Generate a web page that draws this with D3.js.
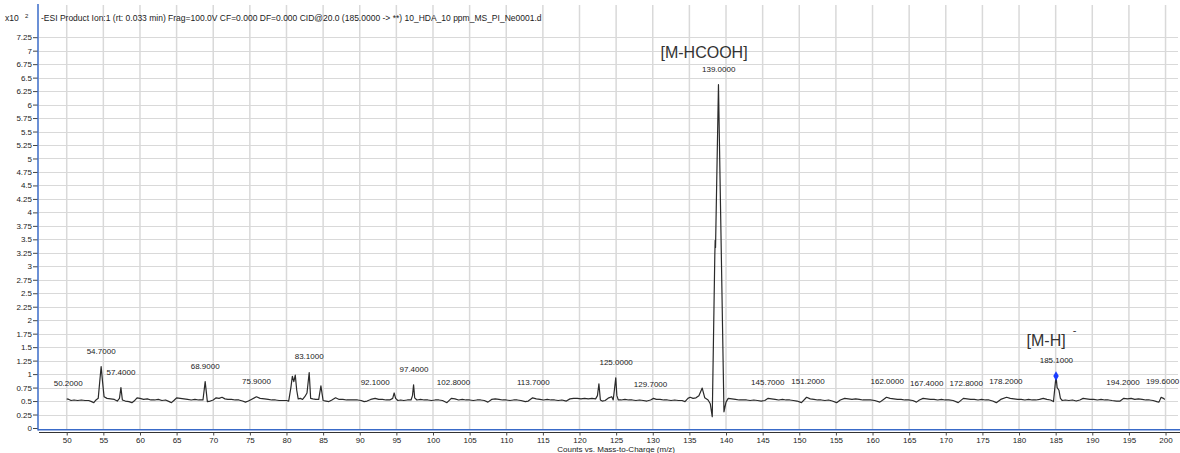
<!DOCTYPE html>
<html>
<head>
<meta charset="utf-8">
<script src="https://cdn.jsdelivr.net/npm/d3@7/dist/d3.min.js"></script>
<style>
  html, body { margin: 0; padding: 0; background: #fff; }
  svg { display: block; font-family: "Liberation Sans", Arial, sans-serif; }
</style>
</head>
<body>
<svg id="chart" width="1180" height="453"></svg>
<script>
// ---- Data (counts in units of x10^2) ----
const mz = [
  50.0,50.3,50.6,51.0,51.5,52.0,52.5,53.0,53.4,53.7,54.0,54.3,54.5,54.7,54.9,55.1,55.5,56.0,56.5,56.9,
  57.2,57.4,57.6,58.0,58.5,58.9,59.2,59.6,60.0,60.5,61.0,61.5,62.0,62.5,63.0,63.5,64.0,64.3,64.7,65.0,
  65.5,66.0,66.5,67.0,67.5,68.0,68.6,68.9,69.2,69.6,70.0,70.4,70.8,71.2,71.6,72.0,72.5,73.0,73.5,74.0,
  74.4,74.8,75.2,75.9,76.4,77.0,77.5,78.0,78.5,79.0,79.5,80.0,80.3,80.6,80.8,81.0,81.2,81.4,81.6,81.9,
  82.2,82.5,82.8,83.1,83.3,83.6,84.0,84.4,84.7,85.0,85.4,85.8,86.2,86.7,87.2,87.7,88.2,88.7,89.2,89.7,
  90.2,90.6,91.0,91.5,92.1,92.6,93.1,93.6,94.1,94.5,94.7,94.9,95.2,95.6,96.0,96.5,97.0,97.2,97.35,97.5,
  97.8,98.3,98.8,99.3,99.8,100.3,100.8,101.3,101.9,102.5,103.0,103.5,104.0,104.5,105.0,105.5,106.0,106.5,107.0,107.5,
  108.0,108.5,109.0,109.5,110.0,110.5,111.0,111.5,112.0,112.6,113.0,113.6,114.1,114.6,115.1,115.6,116.1,116.6,117.1,117.6,
  118.2,118.7,119.2,119.7,120.2,120.7,121.2,121.7,122.2,122.45,122.65,122.85,123.1,123.5,124.0,124.4,124.6,124.8,124.95,125.1,
  125.3,125.7,126.2,126.7,127.2,127.7,128.2,128.7,129.2,129.7,130.1,130.5,131.0,131.5,132.0,132.5,133.0,133.5,134.0,134.4,
  134.8,135.1,135.5,135.9,136.3,136.75,137.1,137.55,137.85,138.12,138.47,138.52,138.57,138.97,139.72,140.0,140.3,140.8,141.3,141.8,
  142.3,142.8,143.3,143.8,144.3,144.8,145.3,145.75,146.2,146.7,147.2,147.7,148.2,148.7,149.2,149.7,150.3,151.0,151.5,152.0,
  152.5,153.0,153.5,154.0,154.5,155.1,155.6,156.2,156.7,157.2,157.7,158.2,158.7,159.2,159.7,160.3,161.0,161.5,161.9,162.4,
  162.9,163.4,163.9,164.4,164.9,165.5,166.0,166.4,166.9,167.4,167.9,168.4,168.9,169.4,169.9,170.4,171.0,171.7,172.4,172.9,
  173.4,173.9,174.4,174.9,175.4,175.9,176.4,176.9,177.5,178.3,178.8,179.3,179.8,180.3,180.8,181.3,181.8,182.3,182.8,183.3,
  183.8,184.3,184.7,185.05,185.2,185.45,185.65,185.9,186.3,186.8,187.3,187.8,188.3,188.75,189.2,189.7,190.2,190.7,191.2,191.7,
  192.2,192.7,193.3,193.8,194.3,194.8,195.3,195.8,196.3,196.8,197.3,197.8,198.3,198.8,199.1,199.4,199.7,199.9
];
const counts = [
  0.54,0.53,0.51,0.52,0.51,0.52,0.51,0.51,0.49,0.47,0.52,0.55,0.85,1.14,0.85,0.58,0.55,0.54,0.53,0.50,
  0.55,0.75,0.52,0.50,0.49,0.47,0.50,0.56,0.55,0.53,0.54,0.52,0.52,0.53,0.51,0.52,0.49,0.47,0.52,0.56,
  0.55,0.54,0.53,0.52,0.53,0.52,0.52,0.86,0.49,0.50,0.52,0.56,0.55,0.57,0.54,0.53,0.53,0.52,0.52,0.50,
  0.48,0.50,0.53,0.58,0.55,0.54,0.53,0.52,0.52,0.51,0.51,0.51,0.50,0.75,0.96,0.86,0.98,0.70,0.54,0.55,
  0.53,0.58,0.65,1.03,0.55,0.54,0.53,0.53,0.78,0.51,0.50,0.49,0.52,0.56,0.53,0.53,0.52,0.52,0.52,0.52,
  0.51,0.49,0.50,0.53,0.55,0.53,0.53,0.52,0.52,0.55,0.65,0.55,0.51,0.52,0.51,0.52,0.52,0.60,0.80,0.56,
  0.52,0.53,0.52,0.52,0.51,0.52,0.52,0.51,0.47,0.55,0.54,0.52,0.53,0.52,0.52,0.51,0.52,0.52,0.51,0.48,
  0.53,0.54,0.53,0.52,0.52,0.51,0.52,0.52,0.51,0.49,0.50,0.56,0.54,0.53,0.52,0.53,0.52,0.52,0.51,0.52,
  0.50,0.54,0.55,0.55,0.54,0.55,0.54,0.55,0.54,0.60,0.82,0.52,0.50,0.51,0.56,0.58,0.52,0.75,0.93,0.60,
  0.52,0.52,0.53,0.52,0.52,0.51,0.52,0.51,0.50,0.52,0.55,0.53,0.53,0.52,0.52,0.51,0.52,0.51,0.51,0.49,
  0.55,0.57,0.55,0.56,0.60,0.74,0.56,0.52,0.45,0.21,3.20,3.48,3.35,6.37,0.30,0.48,0.55,0.54,0.53,0.52,
  0.52,0.52,0.51,0.52,0.51,0.50,0.51,0.55,0.54,0.53,0.52,0.53,0.52,0.52,0.51,0.50,0.47,0.57,0.54,0.53,
  0.52,0.52,0.51,0.52,0.50,0.47,0.52,0.55,0.54,0.53,0.54,0.53,0.52,0.52,0.52,0.51,0.48,0.53,0.57,0.55,
  0.54,0.53,0.53,0.52,0.52,0.51,0.48,0.52,0.55,0.54,0.53,0.53,0.52,0.53,0.52,0.52,0.51,0.47,0.55,0.54,
  0.53,0.53,0.52,0.53,0.52,0.52,0.50,0.47,0.53,0.57,0.55,0.54,0.53,0.53,0.52,0.53,0.52,0.52,0.53,0.55,
  0.53,0.52,0.49,0.965,0.75,0.70,0.55,0.51,0.52,0.51,0.52,0.50,0.52,0.55,0.54,0.53,0.53,0.52,0.53,0.52,
  0.52,0.51,0.50,0.50,0.55,0.54,0.55,0.53,0.54,0.53,0.52,0.52,0.51,0.49,0.48,0.57,0.55,0.53
];
// peak labels (m/z)
const peakLabels = [50.2,54.7,57.4,68.9,75.9,83.1,92.1,97.4,102.8,113.7,125.0,129.7,139.0,145.7,151.2,162.0,167.4,172.8,178.2,185.1,194.2,199.6];
const markedPeak = 185.1;
const xTicks = d3.range(50, 201, 5);
const yTicks = d3.range(30).map(i => i * 0.25);
const titleText = "-ESI Product Ion:1 (rt: 0.033 min) Frag=100.0V CF=0.000 DF=0.000 CID@20.0 (185.0000 -> **)  10_HDA_10 ppm_MS_PI_Ne0001.d";
const xTitle = "Counts vs. Mass-to-Charge (m/z)";
const annotations = [
  { mz: 137.0, value: 6.86, text: "[M-HCOOH]" },
  { mz: 183.7, value: 1.52, text: "[M-H]", sup: "-" }
];

// ---- Layout ----
const svg = d3.select("#chart");
const L = 38, R = 1178, T = 22, B = 428;
const x = d3.scaleLinear().domain([46.08, 201.7]).range([L, R]);
const y = d3.scaleLinear().domain([0, 7.532]).range([B, T]);
const data = mz.map((m, i) => ({ mz: m, v: counts[i] }));

// grid
const grid = svg.append("g");
grid.selectAll(".hg").data(yTicks.filter(d => d > 0)).join("line")
  .attr("x1", L + 1).attr("x2", R)
  .attr("y1", d => Math.round(y(d)) + 0.5).attr("y2", d => Math.round(y(d)) + 0.5)
  .attr("stroke", "#d9d9d9").attr("stroke-width", 1);
grid.selectAll(".vg").data(xTicks).join("line")
  .attr("x1", d => x(d)).attr("x2", d => x(d))
  .attr("y1", 5).attr("y2", 429)
  .attr("stroke", "#d9d9d9").attr("stroke-width", 1.5);

// spectrum
const line = d3.line().x(d => x(d.mz)).y(d => y(d.v));
svg.append("path").datum(data)
  .attr("d", line).attr("fill", "none")
  .attr("stroke", "#2a2a2a").attr("stroke-width", 1.2).attr("stroke-linejoin", "round");

// axes
const yAxis = d3.axisLeft(y).tickValues(yTicks).tickSize(5).tickSizeOuter(0)
  .tickFormat(d => String(+d.toFixed(2)));
const gy = svg.append("g").attr("transform", `translate(${L},0)`).call(yAxis);
gy.select(".domain").remove();
gy.selectAll(".tick line").attr("stroke", "#444");
gy.selectAll(".tick text").attr("font-size", 8).attr("fill", "#222").attr("x", -6)
  .style("font-family", "Liberation Sans, Arial, sans-serif");

const xAxis = d3.axisBottom(x).tickValues(xTicks).tickSize(3).tickSizeOuter(0);
const gx = svg.append("g").attr("transform", `translate(0,432.5)`).call(xAxis);
gx.select(".domain").attr("stroke", "#333").attr("d", `M${L + 1},0H1180`);
gx.selectAll(".tick line").attr("stroke", "#444");
gx.selectAll(".tick text").attr("font-size", 8).attr("fill", "#222").attr("y", 4.5)
  .style("font-family", "Liberation Sans, Arial, sans-serif");

// blue frame lines
svg.append("line").attr("x1", L).attr("x2", L).attr("y1", 4).attr("y2", 430.5)
  .attr("stroke", "#3a6bc9").attr("stroke-width", 1.5);
svg.append("line").attr("x1", L).attr("x2", 1180).attr("y1", 429.7).attr("y2", 429.7)
  .attr("stroke", "#3a6bc9").attr("stroke-width", 1.5);

// peak labels
function apex(m) {
  const near = data.filter(d => Math.abs(d.mz - m) <= 0.35);
  return d3.greatest(near, d => d.v);
}
svg.append("g").selectAll("text").data(peakLabels).join("text")
  .attr("x", d => x(d))
  .attr("y", d => y(apex(d).v) - 13)
  .attr("text-anchor", "middle").attr("font-size", 8).attr("fill", "#222")
  .text(d => d.toFixed(4));

// marker
const mp = apex(markedPeak);
svg.append("path")
  .attr("d", d3.symbol(d3.symbolDiamond, 26)())
  .attr("transform", `translate(${x(mp.mz)},${y(mp.v)})`)
  .attr("fill", "#1a3cff");

// header
svg.append("text").attr("x", 5).attr("y", 21).attr("font-size", 8.5).attr("fill", "#222").text("x10");
svg.append("text").attr("x", 25).attr("y", 18).attr("font-size", 6).attr("fill", "#222").text("2");
svg.append("text").attr("x", 41).attr("y", 21).attr("font-size", 8.5).attr("fill", "#222").text(titleText);

// x title
svg.append("text").attr("x", x(125)).attr("y", 452).attr("text-anchor", "middle")
  .attr("font-size", 8).attr("fill", "#222").text(xTitle);

// annotations
annotations.forEach(a => {
  const t = svg.append("text").attr("x", x(a.mz)).attr("y", y(a.value))
    .attr("text-anchor", "middle").attr("font-size", 16).attr("fill", "#333").text(a.text);
  if (a.sup) {
    const bb = t.node().getBBox();
    svg.append("text").attr("x", bb.x + bb.width + 9).attr("y", y(a.value) - 12)
      .attr("text-anchor", "middle").attr("font-size", 11).attr("fill", "#333").text(a.sup);
  }
});
</script>
</body>
</html>
